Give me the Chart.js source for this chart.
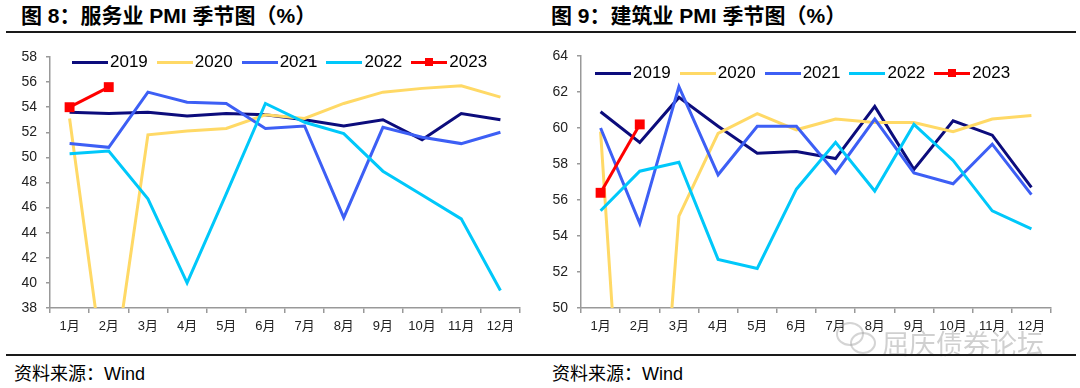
<!DOCTYPE html>
<html><head><meta charset="utf-8">
<script src="https://cdn.jsdelivr.net/npm/chart.js@4.4.1/dist/chart.umd.min.js"></script>
<style>
html,body{margin:0;padding:0;background:#fff;}
body{width:1080px;height:388px;overflow:hidden;position:relative;font-family:"Liberation Sans","Noto Sans CJK SC",sans-serif;color:#000;}
.title{position:absolute;top:3px;font-size:21px;font-weight:bold;white-space:nowrap;line-height:26px;}
.rule{position:absolute;left:6px;width:1070px;height:2px;background:#1a1a1a;}
.src{position:absolute;top:362px;font-size:18px;line-height:24px;white-space:nowrap;}
canvas{position:absolute;top:35px;}
.legend{position:absolute;display:flex;align-items:center;font-size:17px;line-height:20px;white-space:nowrap;}
.item{display:flex;align-items:center;margin-right:9px;}
.sw{position:relative;width:36px;height:3px;margin-right:2px;}
.sq{position:absolute;left:14px;top:-3px;width:8px;height:8px;background:#f00;}
.wm{position:absolute;left:882px;top:326px;font-size:27px;line-height:34px;color:rgba(150,150,150,0.45);white-space:nowrap;font-family:"Noto Sans CJK SC";}
.ic1{position:absolute;left:836px;top:322px;width:24px;height:20px;border:2px solid rgba(160,160,160,0.45);border-radius:50%;}
.ic2{position:absolute;left:850px;top:332px;width:22px;height:18px;border:2px solid rgba(160,160,160,0.45);border-radius:50%;}
</style>
</head><body>
<div class="title" style="left:21px">图 8：服务业 PMI 季节图（%）</div>
<div class="title" style="left:551px">图 9：建筑业 PMI 季节图（%）</div>
<div class="rule" style="top:31px"></div>
<canvas id="c1" width="540" height="300" style="left:0px"></canvas>
<canvas id="c2" width="540" height="300" style="left:540px"></canvas>
<div id="lg1" class="legend" style="left:72px;top:52px"></div>
<div id="lg2" class="legend" style="left:595px;top:63px"></div>
<div class="ic1"></div><div class="ic2"></div>
<div class="wm">屈庆债券论坛</div>
<div class="rule" style="top:354px"></div>
<div class="src" style="left:14px">资料来源：Wind</div>
<div class="src" style="left:552px">资料来源：Wind</div>
<script>
const months = ['1月','2月','3月','4月','5月','6月','7月','8月','9月','10月','11月','12月'];
const years = ['2019','2020','2021','2022','2023'];
const colors = ['#0c0c7c','#ffd966','#3d5ff5','#00c8fa','#ff0000'];

// 服务业 PMI
const svc2019 = [53.6,53.5,53.6,53.3,53.5,53.4,53.0,52.5,53.0,51.4,53.5,53.0];
const svc2020 = [53.1,30.1,51.8,52.1,52.3,53.4,53.1,54.3,55.2,55.5,55.7,54.8];
const svc2021 = [51.1,50.8,55.2,54.4,54.3,52.3,52.5,45.2,52.4,51.6,51.1,52.0];
const svc2022 = [50.3,50.5,46.7,40.0,47.1,54.3,52.8,51.9,48.9,47.0,45.1,39.4];
const svc2023 = [54.0,55.6];

// 建筑业 PMI
const con2019 = [60.9,59.2,61.7,60.1,58.6,58.7,58.3,61.2,57.7,60.4,59.6,56.7];
const con2020 = [59.8,26.6,55.1,59.7,60.8,59.9,60.5,60.3,60.3,59.8,60.5,60.7];
const con2021 = [60.0,54.7,62.3,57.4,60.1,60.1,57.5,60.5,57.5,56.9,59.1,56.3];
const con2022 = [55.4,57.6,58.1,52.7,52.2,56.6,59.2,56.5,60.2,58.2,55.4,54.4];
const con2023 = [56.4,60.2];

const svcTicks = {min:38, max:58, step:2};
const conTicks = {min:50, max:64, step:2};

function makeDatasets(series){
  return series.map((d,i)=>({
    label: years[i],
    data: d,
    borderColor: colors[i],
    backgroundColor: colors[i],
    borderWidth: 3,
    tension: 0,
    pointRadius: i===4 ? 7 : 0,
    pointStyle: 'rect',
    pointBorderWidth: 0,
    order: 5 - i
  }));
}

function makeChart(id, series, tk, yW, padTop, padRight, xH){
  new Chart(document.getElementById(id), {
    type: 'line',
    data: { labels: months, datasets: makeDatasets(series) },
    options: {
      responsive: false,
      animation: false,
      events: [],
      layout: { padding: { top: padTop, right: padRight, left: 0, bottom: 0 } },
      plugins: { legend: { display: false }, tooltip: { enabled: false } },
      scales: {
        x: {
          type: 'category',
          offset: true,
          grid: { offset: true, drawOnChartArea: false, tickLength: 5, color: '#999', lineWidth: 1.5 },
          border: { color: '#999', width: 1.5 },
          ticks: { font: { size: 13, family: '"Liberation Sans","Noto Sans CJK SC"' }, color: '#222', padding: 6, maxRotation: 0, autoSkip: false },
          afterFit: s => { s.height = xH; }
        },
        y: {
          min: tk.min, max: tk.max,
          grid: { drawOnChartArea: false, tickLength: 4, color: '#999', lineWidth: 1.5 },
          border: { color: '#999', width: 1.5 },
          ticks: { stepSize: tk.step, font: { size: 14, family: '"Liberation Sans"' }, color: '#222', padding: 9 },
          afterFit: s => { s.width = yW; }
        }
      }
    }
  });
}

makeChart('c1', [svc2019, svc2020, svc2021, svc2022, svc2023], svcTicks, 50, 22, 20, 27);
makeChart('c2', [con2019, con2020, con2021, con2022, con2023], conTicks, 41, 21, 29, 27);

function makeLegend(id){
  const el = document.getElementById(id);
  years.forEach((y,i)=>{
    const it = document.createElement('div'); it.className='item';
    const sw = document.createElement('div'); sw.className='sw'; sw.style.background=colors[i];
    if(i===4){ const q=document.createElement('div'); q.className='sq'; sw.appendChild(q); }
    const t = document.createElement('span'); t.textContent = y;
    it.appendChild(sw); it.appendChild(t); el.appendChild(it);
  });
}
makeLegend('lg1'); makeLegend('lg2');
</script>
</body></html>
